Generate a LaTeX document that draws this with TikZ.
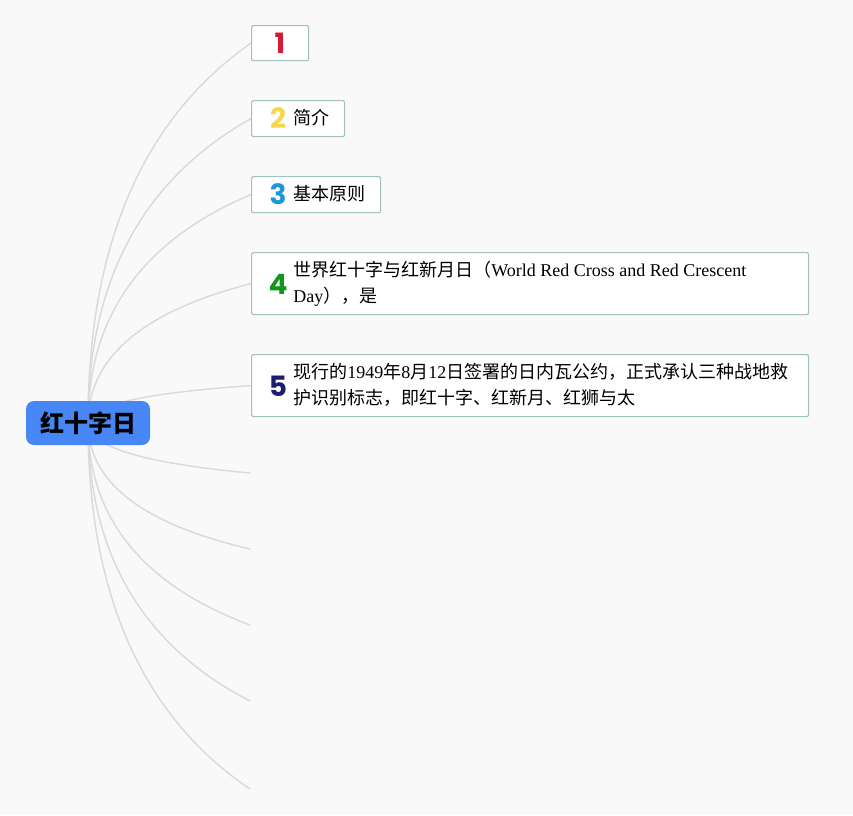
\documentclass[tikz,border=0pt]{standalone}
\usepackage{fontspec}
\setmainfont{Liberation Serif}
\newfontfamily\cjk{Noto Sans CJK SC}
\newfontfamily\numfont{Poppins}
\usetikzlibrary{backgrounds,calc}

\definecolor{bgcol}{RGB}{249,249,249}
\definecolor{rootblue}{RGB}{70,135,245}
\definecolor{boxline}{RGB}{160,195,185}
\definecolor{branchgrey}{RGB}{218,218,218}
\definecolor{numred}{RGB}{215,25,55}
\definecolor{numyellow}{RGB}{245,215,80}
\definecolor{numblue}{RGB}{30,150,220}
\definecolor{numgreen}{RGB}{20,150,30}
\definecolor{numnavy}{RGB}{25,30,110}

\tikzset{
  root/.style={rectangle, rounded corners=6pt, fill=rootblue, minimum width=93pt,
    minimum height=33pt, inner sep=0pt, font=\cjk\bfseries\fontsize{18}{20}\selectfont},
  topic/.style={rectangle, rounded corners=1.5pt, draw=boxline, line width=0.9pt,
    fill=white, anchor=north west, inner sep=0pt},
  num/.style={inner sep=0pt, font=\numfont\bfseries\fontsize{21}{24}\selectfont},
  topictext/.style={anchor=west, inner sep=0pt, align=left,
    font=\fontsize{13.5}{19.5}\selectfont},
  branch/.style={draw=branchgrey, line width=1.1pt,
    to path={let \p1=(\tikztostart), \p2=(\tikztotarget) in
      .. controls (\x1,{\y1+0.467*(\y2-\y1)}) and ({\x1+(\x2-\x1)/3},{\y1+0.8*(\y2-\y1)}) .. (\tikztotarget)}}
}

\begin{document}
\begin{tikzpicture}[x=0.75pt,y=-0.75pt]
  % 中心主题
  \node[root] (root) at (88,423) {红十字日};

  % 分支主题
  \node[topic, minimum width=42.75pt, minimum height=26.25pt] (b1) at (251,25) {};
  \node[num, text=numred] (n1) at (280,43) {1};

  \node[topic, minimum width=69.75pt, minimum height=27pt] (b2) at (251,100) {};
  \node[num, text=numyellow] (n2) at (278,118) {2};
  \node[topictext] (t2) at (293,118) {\cjk 简介};

  \node[topic, minimum width=96.75pt, minimum height=27pt] (b3) at (251,176) {};
  \node[num, text=numblue] (n3) at (278,194) {3};
  \node[topictext] (t3) at (293,194) {\cjk 基本原则};

  \node[topic, minimum width=417.75pt, minimum height=46.5pt] (b4) at (251,252) {};
  \node[num, text=numgreen] (n4) at (278,284) {4};
  \node[topictext] (t4) at (293,284) {{\cjk 世界红十字与红新月日（}World Red Cross and Red Crescent\\Day{\cjk ），是}};

  \node[topic, minimum width=417.75pt, minimum height=46.5pt] (b5) at (251,354) {};
  \node[num, text=numnavy] (n5) at (278,386) {5};
  \node[topictext] (t5) at (293,385) {{\cjk 现行的}1949{\cjk 年}8{\cjk 月}12{\cjk 日签署的日内瓦公约，正式承认三种战地救}\\{\cjk 护识别标志，即红十字、红新月、红狮与太}};

  % 空分支的端点
  \coordinate (e1) at (250,473);
  \coordinate (e2) at (250,549);
  \coordinate (e3) at (250,625);
  \coordinate (e4) at (250,701);
  \coordinate (e5) at (250,789);

  % 背景和连线
  \begin{scope}[on background layer]
    \fill[bgcol] (0,0) rectangle (853,815);
    \foreach \b in {b1,b2,b3,b4,b5}
      \draw[branch] (root.center) to (\b.west);
    \foreach \e in {e1,e2,e3,e4,e5}
      \draw[branch] (root.center) to (\e);
  \end{scope}
\end{tikzpicture}
\end{document}
